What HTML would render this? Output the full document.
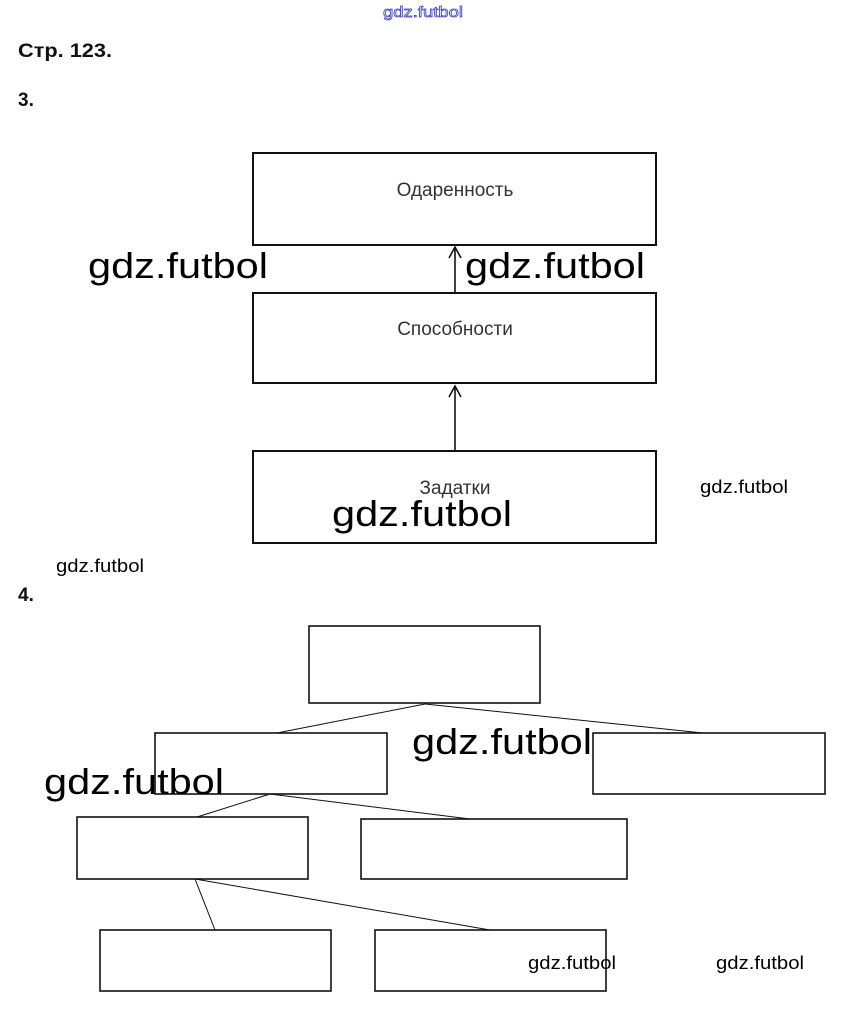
<!DOCTYPE html>
<html><head><meta charset="utf-8"><style>
html,body{margin:0;padding:0;background:#fff;}
svg{display:block;}
</style></head><body>
<svg width="847" height="1015" xmlns="http://www.w3.org/2000/svg" font-family="Liberation Sans, sans-serif">
<rect width="847" height="1015" fill="#fff"/>
<text x="383" y="17" font-size="15" fill="#fff" stroke="#3333cc" stroke-width="0.7" textLength="80" lengthAdjust="spacingAndGlyphs">gdz.futbol</text>
<text x="18" y="57" font-size="19" font-weight="bold" fill="#111" textLength="94" lengthAdjust="spacingAndGlyphs">Стр. 123.</text>
<text x="18" y="106" font-size="19" font-weight="bold" fill="#111">3.</text>
<g fill="none" stroke="#111" stroke-width="2">
<rect x="253" y="153" width="403" height="92"/>
<rect x="253" y="293" width="403" height="90"/>
<rect x="253" y="451" width="403" height="92"/>
</g>
<g stroke="#111" stroke-width="1.6" fill="none">
<line x1="455" y1="293" x2="455" y2="247"/><polyline points="449,258 455,247 461,258"/>
<line x1="455" y1="451" x2="455" y2="386"/><polyline points="449,397 455,386 461,397"/>
</g>
<g font-size="19" fill="#333" text-anchor="middle">
<text x="455" y="196">Одаренность</text>
<text x="455" y="335">Способности</text>
<text x="455" y="494">Задатки</text>
</g>
<text x="18" y="601" font-size="19" font-weight="bold" fill="#111">4.</text>
<g fill="none" stroke="#111" stroke-width="1.6">
<rect x="309" y="626" width="231" height="77"/>
<rect x="155" y="733" width="232" height="61"/>
<rect x="593" y="733" width="232" height="61"/>
<rect x="77" y="817" width="231" height="62"/>
<rect x="361" y="819" width="266" height="60"/>
<rect x="100" y="930" width="231" height="61"/>
<rect x="375" y="930" width="231" height="61"/>
</g>
<g stroke="#111" stroke-width="1">
<line x1="425" y1="704" x2="277" y2="733"/>
<line x1="425" y1="704" x2="703" y2="733"/>
<line x1="270" y1="794" x2="197" y2="817"/>
<line x1="270" y1="794" x2="470" y2="819"/>
<line x1="195" y1="879" x2="215" y2="930"/>
<line x1="195" y1="879" x2="490" y2="930"/>
</g>
<g font-size="36" fill="#000">
<text x="88" y="278" textLength="180" lengthAdjust="spacingAndGlyphs">gdz.futbol</text>
<text x="465" y="278" textLength="180" lengthAdjust="spacingAndGlyphs">gdz.futbol</text>
<text x="332" y="526" textLength="180" lengthAdjust="spacingAndGlyphs">gdz.futbol</text>
<text x="412" y="754" textLength="180" lengthAdjust="spacingAndGlyphs">gdz.futbol</text>
<text x="44" y="794" textLength="180" lengthAdjust="spacingAndGlyphs">gdz.futbol</text>
</g>
<g font-size="18" fill="#000">
<text x="700" y="493" textLength="88" lengthAdjust="spacingAndGlyphs">gdz.futbol</text>
<text x="56" y="572" textLength="88" lengthAdjust="spacingAndGlyphs">gdz.futbol</text>
<text x="528" y="969" textLength="88" lengthAdjust="spacingAndGlyphs">gdz.futbol</text>
<text x="716" y="969" textLength="88" lengthAdjust="spacingAndGlyphs">gdz.futbol</text>
</g>
</svg>
</body></html>
